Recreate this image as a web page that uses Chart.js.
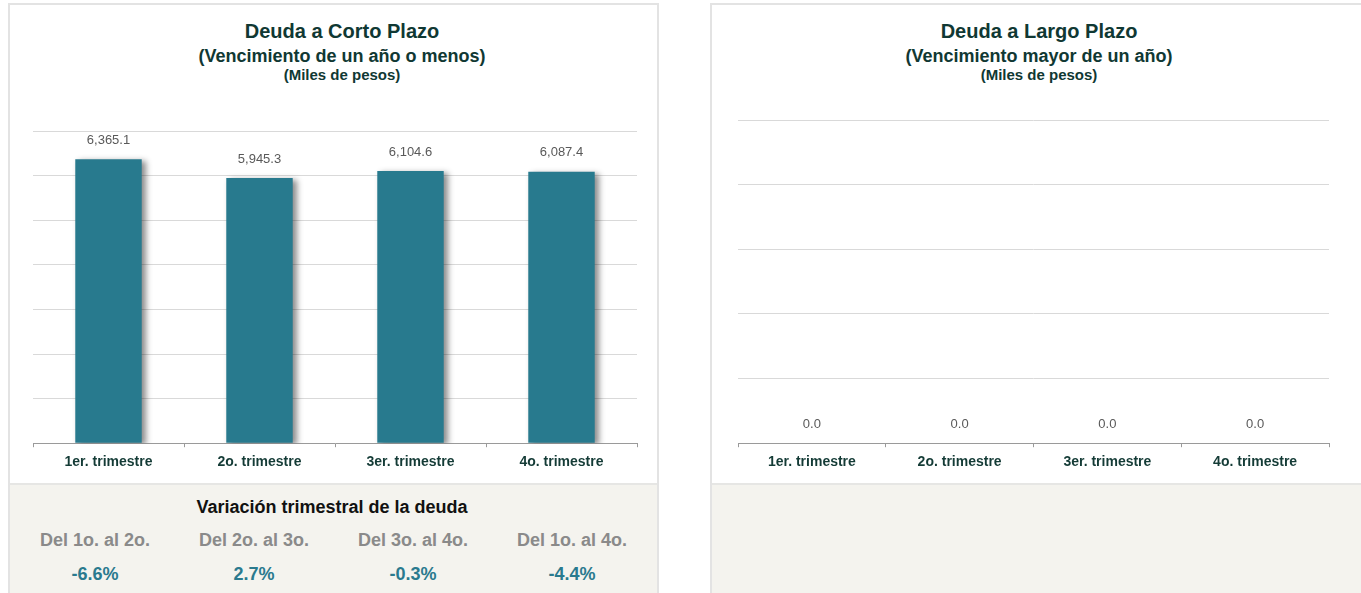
<!DOCTYPE html>
<html>
<head>
<meta charset="utf-8">
<script src="https://cdn.jsdelivr.net/npm/chart.js@4.4.1/dist/chart.umd.min.js"></script>
<style>
  body { margin: 0; width: 1361px; height: 593px; background: #fff; overflow: hidden;
         font-family: "Liberation Sans", Arial, sans-serif; position: relative; }
  .panel { position: absolute; top: 3px; height: 620px; border: 2px solid #e3e3e3; background: #fff; box-sizing: border-box; }
  .beige { position: absolute; left: 0; right: 0; top: 478px; bottom: 0; background: #f4f3ee; border-top: 2px solid #e6e6e4; }
  .t { position: absolute; text-align: center; white-space: nowrap; font-weight: bold; color: #103833; }
  .abs { position: absolute; text-align: center; white-space: nowrap; font-weight: bold; }
  canvas { position: absolute; }
</style>
</head>
<body>
<div class="panel" style="left:8px;width:651px;"><div class="beige"></div></div>
<div class="panel" style="left:710px;width:660px;"><div class="beige"></div></div>

<div class="t" style="left:142px;width:400px;top:19px;font-size:20px;line-height:24px;">Deuda a Corto Plazo</div>
<div class="t" style="left:142px;width:400px;top:45px;font-size:18px;line-height:22px;">(Vencimiento de un año o menos)</div>
<div class="t" style="left:142px;width:400px;top:66px;font-size:15px;line-height:18px;">(Miles de pesos)</div>

<div class="t" style="left:839px;width:400px;top:19px;font-size:20px;line-height:24px;">Deuda a Largo Plazo</div>
<div class="t" style="left:839px;width:400px;top:45px;font-size:18px;line-height:22px;">(Vencimiento mayor de un año)</div>
<div class="t" style="left:839px;width:400px;top:66px;font-size:15px;line-height:18px;">(Miles de pesos)</div>

<canvas id="corto" width="646" height="380" style="left:10px;top:100px;"></canvas>
<canvas id="largo" width="644" height="390" style="left:712px;top:90px;"></canvas>

<div id="variacion"></div>

<script>
const quarters = ['1er. trimestre', '2o. trimestre', '3er. trimestre', '4o. trimestre'];
const cortoPlazo = [6365.1, 5945.3, 6104.6, 6087.4];
const largoPlazo = [0, 0, 0, 0];
const periodLabels = ['Del 1o. al 2o.', 'Del 2o. al 3o.', 'Del 3o. al 4o.', 'Del 1o. al 4o.'];
const periodChange = ['-6.6%', '2.7%', '-0.3%', '-4.4%'];
const barColor = '#287a8e';

// sombra de las barras y etiquetas de valor
const barExtras = {
  id: 'barExtras',
  beforeDatasetsDraw(chart) {
    const c = chart.ctx;
    c.save();
    c.shadowColor = 'rgba(0,0,0,0.45)';
    c.shadowBlur = 6;
    c.shadowOffsetX = 4;
    c.shadowOffsetY = 2;
  },
  afterDatasetsDraw(chart) {
    const c = chart.ctx;
    c.restore();
    c.save();
    c.font = '13px "Liberation Sans", Arial, sans-serif';
    c.fillStyle = '#595959';
    c.textAlign = 'center';
    c.textBaseline = 'middle';
    const ds = chart.data.datasets[0];
    chart.getDatasetMeta(0).data.forEach((bar, i) => {
      const txt = ds.data[i].toLocaleString('en-US', {minimumFractionDigits: 1, maximumFractionDigits: 1});
      c.fillText(txt, bar.x, bar.y - 19);
    });
    c.restore();
  }
};

function makeChart(id, values, yMax, padding) {
  return new Chart(document.getElementById(id), {
    type: 'bar',
    data: {
      labels: quarters,
      datasets: [{
        data: values,
        backgroundColor: barColor,
        barPercentage: 0.44,
        categoryPercentage: 1
      }]
    },
    options: {
      responsive: false,
      animation: false,
      layout: { padding: padding },
      scales: {
        y: {
          min: 0,
          max: yMax,
          ticks: { display: false, stepSize: yMax / (yMax === 7000 ? 7 : 5) },
          border: { display: false },
          grid: { color: '#d9d9d9', drawTicks: false }
        },
        x: {
          border: { color: '#9a9a9a', width: 1 },
          grid: { drawOnChartArea: false, color: '#9a9a9a', tickLength: 4 },
          ticks: {
            padding: 7,
            color: '#143b36',
            font: { family: '"Liberation Sans", Arial, sans-serif', size: 14, weight: 'bold' }
          }
        }
      },
      plugins: {
        legend: { display: false },
        tooltip: { enabled: false }
      }
    },
    plugins: [barExtras]
  });
}

makeChart('corto', cortoPlazo, 7000, { left: 23, right: 19, top: 31, bottom: 2 });
makeChart('largo', largoPlazo, 5, { left: 26, right: 27, top: 30, bottom: 2 });

// tabla de variación trimestral
const box = document.getElementById('variacion');
let html = '<div class="abs" style="left:132px;width:400px;top:496px;font-size:18px;line-height:22px;color:#111;">Variación trimestral de la deuda</div>';
const centers = [95, 254, 413, 572];
periodLabels.forEach((lab, i) => {
  html += `<div class="abs" style="left:${centers[i] - 80}px;width:160px;top:529px;font-size:18px;line-height:22px;color:#8a8a8a;">${lab}</div>`;
  html += `<div class="abs" style="left:${centers[i] - 80}px;width:160px;top:563px;font-size:18px;line-height:22px;color:#2a7a8e;">${periodChange[i]}</div>`;
});
box.innerHTML = html;
</script>
</body>
</html>
